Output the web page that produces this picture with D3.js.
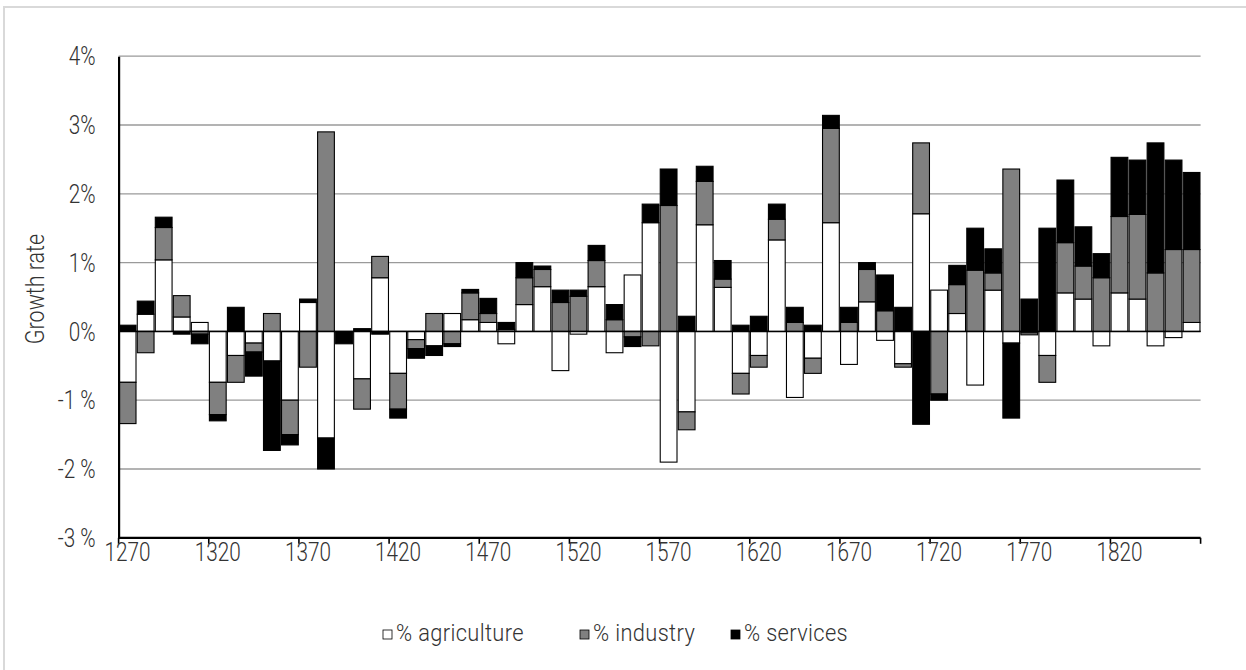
<!DOCTYPE html>
<html>
<head>
<meta charset="utf-8">
<script src="https://cdn.jsdelivr.net/npm/d3@7"></script>
<style>
  html, body { margin: 0; padding: 0; background: #fff; }
  svg text { font-family: Roboto, "Liberation Sans", sans-serif; font-weight: 300; fill: #333; }
</style>
</head>
<body>
<svg id="chart" width="1246" height="670"></svg>
<script>
// Decade categories
const years = [
  1270, 1280, 1290, 1300, 1310, 1320, 1330, 1340, 1350, 1360,
  1370, 1380, 1390, 1400, 1410, 1420, 1430, 1440, 1450, 1460,
  1470, 1480, 1490, 1500, 1510, 1520, 1530, 1540, 1550, 1560,
  1570, 1580, 1590, 1600, 1610, 1620, 1630, 1640, 1650, 1660,
  1670, 1680, 1690, 1700, 1710, 1720, 1730, 1740, 1750, 1760,
  1770, 1780, 1790, 1800, 1810, 1820, 1830, 1840, 1850, 1860
];

// Growth contributions, in percent
const agriculture = [
  -0.74, 0.25, 1.04, 0.21, 0.13, -0.74, -0.35, -0.17, -0.43, -1.00,
  0.42, -1.55, 0.00, -0.69, 0.78, -0.61, -0.12, -0.21, 0.26, 0.17,
  0.13, -0.18, 0.39, 0.65, -0.57, -0.04, 0.65, -0.31, 0.82, 1.58,
  -1.90, -1.17, 1.55, 0.64, -0.61, -0.35, 1.33, -0.96, -0.39, 1.58,
  -0.48, 0.43, -0.13, -0.47, 1.71, 0.60, 0.26, -0.78, 0.60, -0.17,
  -0.02, -0.35, 0.56, 0.47, -0.21, 0.56, 0.47, -0.21, -0.09, 0.13
];
const industry = [
  -0.60, -0.31, 0.47, 0.31, -0.04, -0.47, -0.39, -0.13, 0.26, -0.50,
  -0.52, 2.90, 0.00, -0.44, 0.31, -0.52, -0.13, 0.26, -0.18, 0.39,
  0.13, 0.03, 0.39, 0.25, 0.42, 0.51, 0.38, 0.17, -0.08, -0.21,
  1.83, -0.26, 0.63, 0.12, -0.30, -0.17, 0.30, 0.13, -0.22, 1.37,
  0.13, 0.47, 0.30, -0.05, 1.03, -0.91, 0.42, 0.89, 0.25, 2.36,
  -0.03, -0.39, 0.73, 0.48, 0.78, 1.11, 1.23, 0.85, 1.19, 1.06
];
const services = [
  0.09, 0.19, 0.15, -0.04, -0.14, -0.09, 0.35, -0.35, -1.30, -0.15,
  0.05, -0.45, -0.18, 0.04, -0.04, -0.13, -0.14, -0.14, -0.04, 0.05,
  0.22, 0.10, 0.22, 0.05, 0.18, 0.09, 0.22, 0.22, -0.14, 0.27,
  0.53, 0.22, 0.22, 0.27, 0.09, 0.22, 0.22, 0.22, 0.09, 0.19,
  0.22, 0.10, 0.52, 0.35, -1.35, -0.09, 0.28, 0.61, 0.35, -1.09,
  0.47, 1.50, 0.91, 0.57, 0.35, 0.86, 0.79, 1.89, 1.30, 1.12
];

const seriesNames = ["% agriculture", "% industry", "% services"];
const seriesColors = ["#ffffff", "#808080", "#000000"];
const yTickValues = [-3, -2, -1, 0, 1, 2, 3, 4];
const yTickLabels = ["-3 %", "-2 %", "-1 %", "0%", "1%", "2%", "3%", "4%"];
const xLabelYears = [1270, 1320, 1370, 1420, 1470, 1520, 1570, 1620, 1670, 1720, 1770, 1820];

const svg = d3.select("#chart");
const W = 1246, H = 670;
const plot = { left: 118.6, right: 1200.6, top: 56.2, bottom: 537.8 };
const narrow = 0.83; // horizontal squeeze applied to axis labels

// Light frame around the chart area
svg.append("rect")
  .attr("x", 4).attr("y", 7).attr("width", W + 20).attr("height", H + 20)
  .attr("fill", "none").attr("stroke", "#d9d9d9").attr("stroke-width", 2);

const x = d3.scaleBand().domain(years).range([plot.left, plot.right]).paddingInner(0.07).paddingOuter(0.035);
const xCat = d3.scaleBand().domain(years).range([plot.left, plot.right]);
const y = d3.scaleLinear().domain([-3, 4]).range([plot.bottom, plot.top]);

// Horizontal gridlines
svg.append("g").selectAll("line")
  .data(yTickValues.filter(v => v !== -3))
  .join("line")
  .attr("x1", plot.left).attr("x2", plot.right)
  .attr("y1", d => y(d)).attr("y2", d => y(d))
  .attr("stroke", "#9a9a9a").attr("stroke-width", 1.3);

// Stacked bars (positive and negative parts stacked separately)
const rows = years.map((yr, i) => ({
  year: yr,
  [seriesNames[0]]: agriculture[i],
  [seriesNames[1]]: industry[i],
  [seriesNames[2]]: services[i]
}));
const stacked = d3.stack().keys(seriesNames).offset(d3.stackOffsetDiverging)(rows);

svg.append("g").selectAll("g")
  .data(stacked)
  .join("g")
  .attr("fill", (d, i) => seriesColors[i])
  .selectAll("rect")
  .data(d => d.filter(p => p[1] - p[0] !== 0))
  .join("rect")
  .attr("x", d => x(d.data.year))
  .attr("width", x.bandwidth())
  .attr("y", d => y(Math.max(d[0], d[1])))
  .attr("height", d => Math.abs(y(d[0]) - y(d[1])))
  .attr("stroke", "#000")
  .attr("stroke-width", 1.1);

// Zero line
svg.append("line")
  .attr("x1", plot.left).attr("x2", plot.right)
  .attr("y1", y(0)).attr("y2", y(0))
  .attr("stroke", "#000").attr("stroke-width", 1.5);

// Value axis
const yAxis = d3.axisLeft(y).tickValues(yTickValues).tickSize(0)
  .tickFormat(d => yTickLabels[yTickValues.indexOf(d)]);
const gy = svg.append("g").attr("transform", `translate(${plot.left},0)`).call(yAxis);
gy.select(".domain").attr("stroke", "#000").attr("stroke-width", 2.2);
gy.selectAll("text")
  .attr("x", -23 / narrow).attr("dy", "0.35em")
  .attr("transform", `scale(${narrow},1)`)
  .style("font-size", "25px")
  .style("font-family", null);

// Category axis along the bottom, tick marks every five decades
const tickYears = years.filter((yr, i) => i % 5 === 0);
const gx = svg.append("g").attr("transform", `translate(0,${plot.bottom})`);
gx.append("line")
  .attr("x1", plot.left).attr("x2", plot.right)
  .attr("stroke", "#000").attr("stroke-width", 2.2);
gx.selectAll("line.tick")
  .data(tickYears.map(yr => xCat(yr)).concat([plot.right]))
  .join("line").attr("class", "tick")
  .attr("x1", d => d).attr("x2", d => d)
  .attr("y1", 0).attr("y2", 6)
  .attr("stroke", "#000").attr("stroke-width", 1.6);
gx.selectAll("text")
  .data(xLabelYears)
  .join("text")
  .attr("transform", d => `translate(${xCat(d) + xCat.bandwidth() / 2},23) scale(${narrow},1)`)
  .attr("text-anchor", "middle")
  .style("font-size", "25px")
  .text(d => d);

// Axis title
svg.append("text")
  .attr("transform", `translate(44,289) rotate(-90) scale(0.86,1)`)
  .attr("text-anchor", "middle")
  .style("font-size", "25px")
  .text("Growth rate");

// Legend
const legendItems = [
  { name: seriesNames[0], color: seriesColors[0], x: 383 },
  { name: seriesNames[1], color: seriesColors[1], x: 580 },
  { name: seriesNames[2], color: seriesColors[2], x: 731 }
];
const lg = svg.append("g").attr("transform", "translate(0,633)");
const li = lg.selectAll("g").data(legendItems).join("g")
  .attr("transform", d => `translate(${d.x},0)`);
li.append("rect")
  .attr("x", 0).attr("y", -3).attr("width", 9).attr("height", 9)
  .attr("fill", d => d.color).attr("stroke", "#000").attr("stroke-width", 0.8);
li.append("text")
  .attr("transform", `translate(13,0) scale(0.91,1)`)
  .attr("dy", "0.35em")
  .style("font-size", "24px")
  .style("letter-spacing", "0.4px")
  .text(d => d.name);
</script>
</body>
</html>
